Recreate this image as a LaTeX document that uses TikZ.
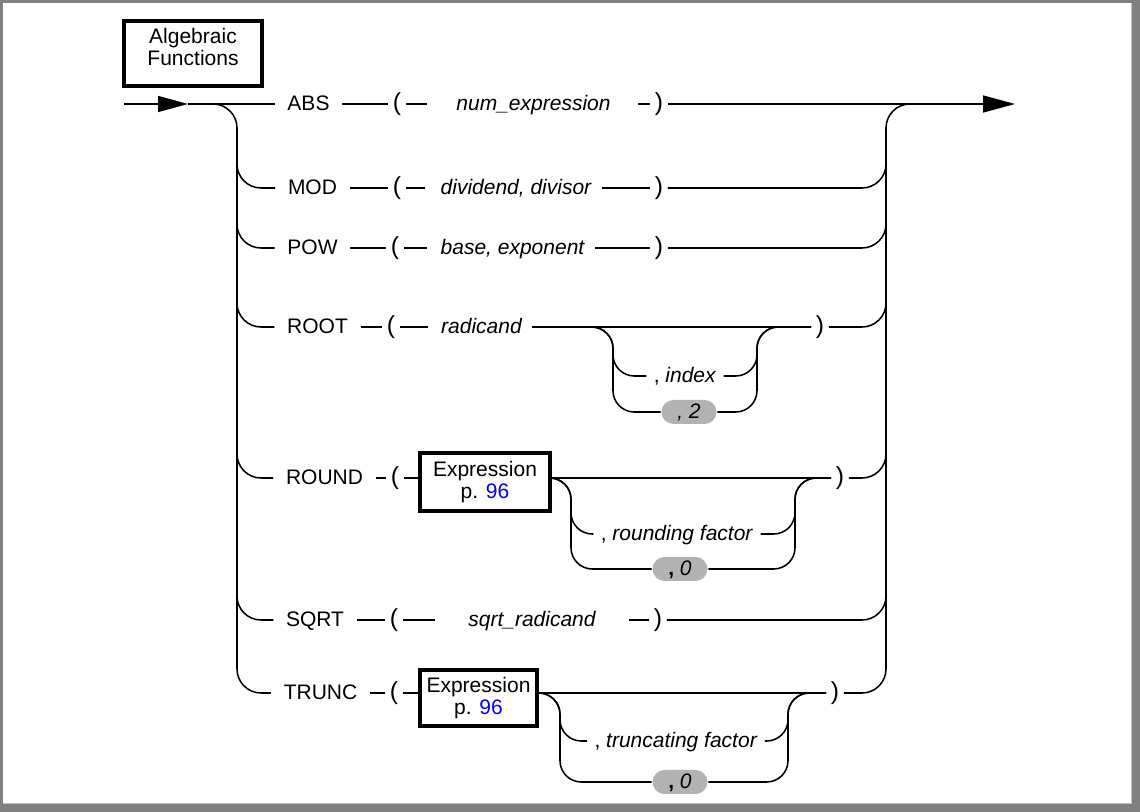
\documentclass[tikz,border=0pt]{standalone}
\usepackage{fontspec}
\setmainfont{Liberation Sans}
\usetikzlibrary{arrows.meta}
\definecolor{framegray}{RGB}{128,128,128}
\definecolor{framelight}{RGB}{192,192,192}
\definecolor{pillgray}{RGB}{178,178,178}
\definecolor{refblue}{RGB}{0,0,255}
\newcommand\rrfont{\fontsize{15.75pt}{16.5pt}\selectfont}
\newcommand\rrparenfont{\fontsize{18.5pt}{19pt}\selectfont}
\begin{document}
\begin{tikzpicture}[x=0.75pt,y=-0.75pt,
  line width=1.15pt,
  rc/.style={rounded corners=18pt},
  rs/.style={rounded corners=16pt},
  kw/.style={font=\rrfont, inner xsep=9pt, inner ysep=0pt, text height=9.4pt, text depth=0pt},
  paren/.style={font=\rrparenfont, inner xsep=3pt, inner ysep=0pt, text height=9.6pt, text depth=0pt},
  arg/.style={font=\rrfont\itshape, inner xsep=0pt, inner ysep=0pt, text height=9.4pt, text depth=0pt},
  opt/.style={font=\rrfont, inner xsep=5pt, inner ysep=0pt, text height=9.4pt, text depth=0pt},
  ebox/.style={draw, line width=2.4pt, font=\rrfont, align=center, inner sep=0pt},
  pill/.style={fill=pillgray, rounded corners=9pt, minimum width=41.25pt, minimum height=18pt, inner sep=0pt, font=\rrfont, text height=9.4pt, text depth=0pt},
  tipL/.style={-{Triangle[length=22.5pt,width=12pt]}},
  tipR/.style={-{Triangle[length=24pt,width=12.75pt]}},
]
\useasboundingbox (0,0) rectangle (1140,812);
% frame
\fill[framegray] (0,0) rectangle (1140,3);
\fill[framegray] (0,0) rectangle (3,812);
\fill[framegray] (1132,0) rectangle (1140,812);
\fill[framegray] (0,804) rectangle (1140,812);
\fill[framelight] (1131,3) rectangle (1132,804);
\fill[framelight] (3,803) rectangle (1132,804);

% title
\node[ebox, minimum width=103.5pt, minimum height=48.75pt, text depth=9.75pt] (title) at (193,53.5) {Algebraic\\Functions};

% spine coordinates
\coordinate (entry) at (124,104);
\coordinate (arrL) at (188,104);
\coordinate (exit) at (1015,104);
\coordinate (Ltop) at (237,128);
\coordinate (Lbot) at (237,693);
\coordinate (Rcorner) at (886,104);
\coordinate (Rtop) at (886,128);
\coordinate (Rout) at (940,104);

% ABS
\node[kw] (abs) at (308.5,104) {ABS};
\node[paren] (alp) at (397,104) {(};
\coordinate (a1) at (427,104);
\node[arg] (aarg) at (533.5,104) {num\_expression};
\coordinate (a2) at (638,104);
\node[paren] (arp) at (659,104) {)};

% MOD
\node[kw] (mod) at (312.5,188) {MOD};
\node[paren] (mlp) at (397,188) {(};
\coordinate (m1) at (425,188);
\node[arg] (marg) at (516,188) {dividend, divisor};
\coordinate (m2) at (602,188);
\node[paren] (mrp) at (659,188) {)};

% POW
\node[kw] (pow) at (312.5,248) {POW};
\node[paren] (plp) at (395,248) {(};
\coordinate (p1) at (427,248);
\node[arg] (parg) at (512.5,248) {base, exponent};
\coordinate (p2) at (595,248);
\node[paren] (prp) at (659,248) {)};

% ROOT
\node[kw] (root) at (317.5,327) {ROOT};
\node[paren] (rlp) at (391,327) {(};
\coordinate (r1) at (428,327);
\node[arg] (rarg) at (481.5,327) {radicand};
\coordinate (r2) at (532,327);
\node[paren] (rrp) at (820,327) {)};
\coordinate (rL) at (613,327);
\coordinate (rR) at (757,327);
\node[opt] (ridx) at (685,376) {, \textit{index}};
\node[pill] (rdef) at (689,412) {\textit{, 2}};

% ROUND
\node[kw] (round) at (324.5,478) {ROUND};
\node[paren] (rolp) at (395,478) {(};
\node[ebox, minimum width=97.5pt, minimum height=43.5pt] (robox) at (485,482) {Expression\\p. \textcolor{refblue}{96}};
\node[paren] (rorp) at (840,478) {)};
\coordinate (roL) at (571,478);
\coordinate (roR) at (795,478);
\node[opt] (rofac) at (677,534) {, \textit{rounding factor}};
\node[pill] (rodef) at (680,569) {\textbf{,} \textit{0}};

% SQRT
\node[kw] (sqrt) at (315,620) {SQRT};
\node[paren] (slp) at (394,620) {(};
\coordinate (s1) at (435,620);
\node[arg] (sarg) at (532,620) {sqrt\_radicand};
\coordinate (s2) at (629,620);
\node[paren] (srp) at (658,620) {)};

% TRUNC
\node[kw] (trunc) at (320.5,693) {TRUNC};
\node[paren] (tlp) at (394,693) {(};
\node[ebox, minimum width=87.75pt, minimum height=42pt] (tbox) at (478.5,698) {Expression\\p. \textcolor{refblue}{96}};
\node[paren] (trp) at (835,693) {)};
\coordinate (tL) at (560,693);
\coordinate (tR) at (788,693);
\node[opt] (tfac) at (676,741) {, \textit{truncating factor}};
\node[pill] (tdef) at (680,782) {\textbf{,} \textit{0}};

% main line and spines
\draw[tipL] (entry) -- (arrL);
\draw (arrL) -- (abs.west);
\draw[rc] (arrL) -| (Lbot) -- (trunc.west);
\draw[tipR] (arp.east) -- (exit);
\draw[rc] (trp.east) -| (Rcorner) -- (Rout);
\foreach \n in {mod,pow,root,round,sqrt}{
  \draw[rc] (Ltop) |- (\n.west);
}
\foreach \n in {mrp,prp,rrp,rorp,srp}{
  \draw[rc] (\n.east) -| (Rtop);
}

% ABS segments
\draw (abs.east) -- (alp.west);
\draw (alp.east) -- (a1);
\draw (a2) -- (arp.west);
% MOD
\draw (mod.east) -- (mlp.west);
\draw (mlp.east) -- (m1);
\draw (m2) -- (mrp.west);
% POW
\draw (pow.east) -- (plp.west);
\draw (plp.east) -- (p1);
\draw (p2) -- (prp.west);
% ROOT
\draw (root.east) -- (rlp.west);
\draw (rlp.east) -- (r1);
\draw (r2) -- (rrp.west);
\draw[rs] (r2) -| (rL |- ridx) -- (ridx.west);
\draw[rs] (r2) -| (rL |- rdef) -- (rdef.west);
\draw[rs] (ridx.east) -| (rR) -- (rrp.west);
\draw[rs] (rdef.east) -| (rR) -- (rrp.west);
% ROUND
\draw (round.east) -- (rolp.west);
\draw (rolp.east) -- (robox.west |- rolp);
\draw (robox.east |- rorp) -- (rorp.west);
\draw[rs] (robox.east |- rorp) -| (roL |- rofac) -- (rofac.west);
\draw[rs] (robox.east |- rorp) -| (roL |- rodef) -- (rodef.west);
\draw[rs] (rofac.east) -| (roR) -- (rorp.west);
\draw[rs] (rodef.east) -| (roR) -- (rorp.west);
% SQRT
\draw (sqrt.east) -- (slp.west);
\draw (slp.east) -- (s1);
\draw (s2) -- (srp.west);
% TRUNC
\draw (trunc.east) -- (tlp.west);
\draw (tlp.east) -- (tbox.west |- tlp);
\draw (tbox.east |- trp) -- (trp.west);
\draw[rs] (tbox.east |- trp) -| (tL |- tfac) -- (tfac.west);
\draw[rs] (tbox.east |- trp) -| (tL |- tdef) -- (tdef.west);
\draw[rs] (tfac.east) -| (tR) -- (trp.west);
\draw[rs] (tdef.east) -| (tR) -- (trp.west);
\end{tikzpicture}
\end{document}
